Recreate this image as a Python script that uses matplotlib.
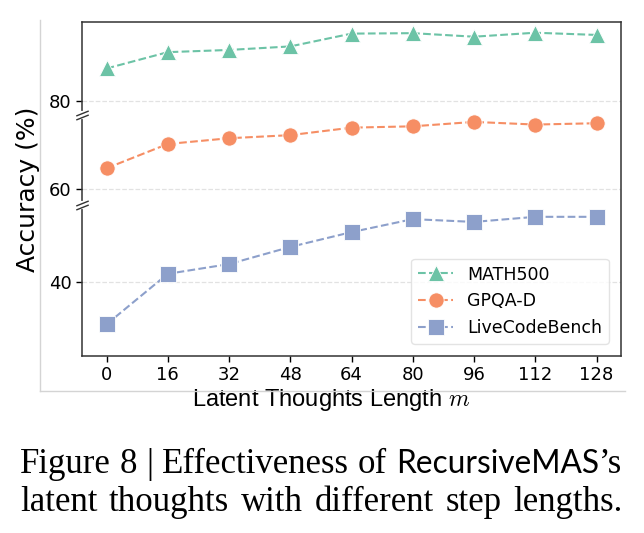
import matplotlib
matplotlib.use("Agg")
import matplotlib.pyplot as plt
import matplotlib.transforms as mtransforms
from matplotlib.lines import Line2D
import numpy as np

lengths = [0, 16, 32, 48, 64, 80, 96, 112, 128]
math500 = [87.3, 91.0, 91.5, 92.3, 95.2, 95.3, 94.5, 95.4, 94.9]
gpqa = [64.7, 70.2, 71.5, 72.2, 73.9, 74.2, 75.2, 74.6, 74.9]
livecode = [30.8, 41.7, 43.8, 47.5, 50.7, 53.5, 52.9, 54.0, 54.0]
series_names = ["MATH500", "GPQA-D", "LiveCodeBench"]
yticks = [40, 60, 80]
breaks = [56.5, 76.8]

plt.rcParams["mathtext.fontset"] = "cm"

# piecewise y scale: the two halves of the axis are not quite the same height
knots_v = np.array([-1000.0, 60.0, 1000.0])
knots_p = np.array([-1060 * 4.635, 0.0, 940 * 4.415])


def fwd(v):
    return np.interp(v, knots_v, knots_p)


def inv(p):
    return np.interp(p, knots_p, knots_v)


colors = ["#6cc3a6", "#f68e64", "#8da0cb"]
markers = ["^", "o", "s"]

W, H = 644, 533
fig = plt.figure(figsize=(6.44, 5.33), dpi=100)
ax = fig.add_axes([82 / W, 1 - 356 / H, 539 / W, 334 / H])
ax.set_yscale("function", functions=(fwd, inv))

for vals, name, c, m in zip([math500, gpqa, livecode], series_names, colors, markers):
    ax.plot(lengths, vals, linestyle="--", color=c, lw=1.5, marker=m, ms=11,
            markeredgecolor="white", markeredgewidth=0.6, label=name, zorder=3)

ax.set_xlim(-6.4, 134.4)
ax.set_ylim(23.97, 97.83)
ax.set_xticks(lengths)
ax.set_yticks(yticks)
ax.yaxis.set_minor_locator(matplotlib.ticker.NullLocator())
ax.tick_params(labelsize=13, length=4, width=1)
ax.grid(axis="y", linestyle="--", color="#e2e2e2", lw=0.9, zorder=0)
for s in ax.spines.values():
    s.set_color("#333333")
    s.set_linewidth(1.1)

ax.set_xlabel("Latent Thoughts Length $m$", fontsize=17, family="Liberation Sans")
ax.xaxis.set_label_coords((331 - 82) / 539, -0.093)
ax.set_ylabel("Accuracy (%)", fontsize=18, labelpad=6)

leg = ax.legend(loc="lower right", fontsize=12.5, frameon=True, borderaxespad=0.7)
leg.get_frame().set_edgecolor("#dddddd")

# break marks on the left spine
bt = mtransforms.blended_transform_factory(ax.transAxes, ax.transData)
for b in breaks:
    ax.plot([0, 0], [b - 0.4, b + 0.4], transform=bt, color="white", lw=3,
            clip_on=False, zorder=5)
    for d in (-0.4, 0.4):
        ax.plot([0], [b + d], transform=bt, marker=[(-1, -0.4), (1, 0.4)],
                ms=9, mew=1, color="#333333", linestyle="none",
                clip_on=False, zorder=6)

# light frame around the chart image
fig.add_artist(Line2D([40 / W, 40 / W], [1 - 20 / H, 1 - 391 / H],
                      color="#d4d4d4", lw=1))
fig.add_artist(Line2D([40 / W, 625 / W], [1 - 391 / H, 1 - 391 / H],
                      color="#d4d4d4", lw=1))

# caption, justified between x=20 and x=622
renderer = fig.canvas.get_renderer()
serif = "Liberation Serif"
cap_size = 25
left, right = 20, 622
space = 0.25 * cap_size * 100 / 72


def width(text, fam, size):
    t = fig.text(0, 0, text, fontsize=size, family=fam)
    w = t.get_window_extent(renderer).width
    t.remove()
    return w


# size the sans word so line 1 fits with normal word spacing
serif_words = ["Figure", "8", "|", "Effectiveness", "of", "\u2019s"]
serif_w = sum(width(s, serif, cap_size) for s in serif_words)
sans_size = 20 * (right - left - serif_w - 5 * space) / width("RecursiveMAS", "Lato", 20)


def place_justified(pieces, baseline, attach_last=False):
    ts = [fig.text(0, 1 - baseline / H, s, fontsize=sz, family=f,
                   ha="left", va="baseline") for s, f, sz in pieces]
    widths = [t.get_window_extent(renderer).width for t in ts]
    n_gaps = len(ts) - 1 - (1 if attach_last else 0)
    gap = (right - left - sum(widths)) / n_gaps
    x = left
    for i, (t, w) in enumerate(zip(ts, widths)):
        t.set_x(x / W)
        x += w
        if not (attach_last and i == len(ts) - 2):
            x += gap


line1 = [(s, serif, cap_size) for s in serif_words[:5]]
line1 += [("RecursiveMAS", "Lato", sans_size), ("\u2019s", serif, cap_size)]
place_justified(line1, 473, attach_last=True)
line2 = [(w, serif, cap_size) for w in "latent thoughts with different step lengths.".split()]
place_justified(line2, 511)

fig.savefig("out.png", dpi=100)
